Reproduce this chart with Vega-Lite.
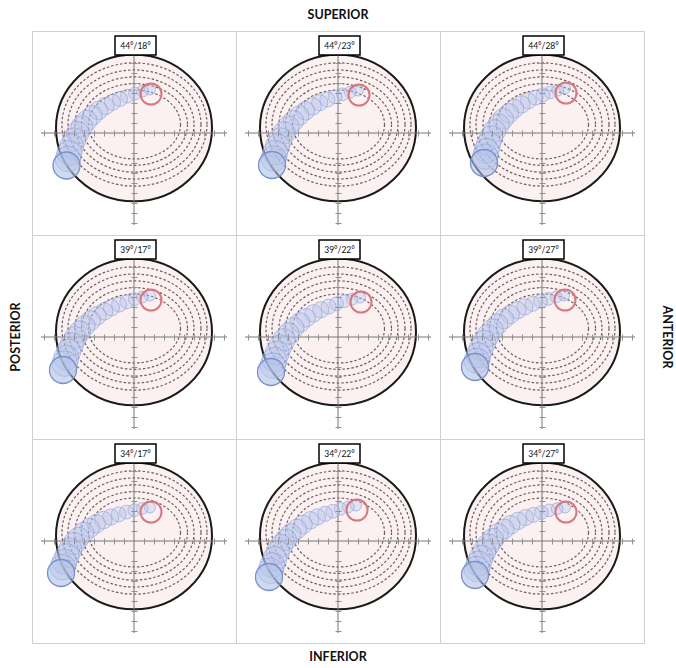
{
  "$schema": "https://vega.github.io/schema/vega-lite/v6.json",
  "padding": {"left": 9, "top": 8, "right": 5, "bottom": 5},
  "background": "white",
  "bounds": "flush",
  "data": {"values": [
    {"p":1,"k":"big","x":0,"y":0.5,"d":15.6},{"p":2,"k":"big","x":0,"y":0.5,"d":15.6},{"p":3,"k":"big","x":0,"y":0.5,"d":15.6},
    {"p":4,"k":"big","x":0,"y":0.5,"d":15.6},{"p":5,"k":"big","x":0,"y":0.5,"d":15.6},{"p":6,"k":"big","x":0,"y":0.5,"d":15.6},
    {"p":7,"k":"big","x":0,"y":0.5,"d":15.6},{"p":8,"k":"big","x":0,"y":0.5,"d":15.6},{"p":9,"k":"big","x":0,"y":0.5,"d":15.6},
    {"p":1,"k":"ring","ri":1,"x":0.05,"y":0.85,"d":9.2},{"p":1,"k":"ring","ri":2,"x":0.05,"y":0.85,"d":10.6},{"p":1,"k":"ring","ri":3,"x":0.05,"y":0.85,"d":11.9},{"p":1,"k":"ring","ri":4,"x":0.05,"y":0.85,"d":13.3},{"p":1,"k":"ring","ri":5,"x":0.05,"y":0.85,"d":14.5},
    {"p":2,"k":"ring","ri":1,"x":0.05,"y":0.85,"d":9.2},{"p":2,"k":"ring","ri":2,"x":0.05,"y":0.85,"d":10.6},{"p":2,"k":"ring","ri":3,"x":0.05,"y":0.85,"d":11.9},{"p":2,"k":"ring","ri":4,"x":0.05,"y":0.85,"d":13.3},{"p":2,"k":"ring","ri":5,"x":0.05,"y":0.85,"d":14.5},
    {"p":3,"k":"ring","ri":1,"x":0.05,"y":0.85,"d":9.2},{"p":3,"k":"ring","ri":2,"x":0.05,"y":0.85,"d":10.6},{"p":3,"k":"ring","ri":3,"x":0.05,"y":0.85,"d":11.9},{"p":3,"k":"ring","ri":4,"x":0.05,"y":0.85,"d":13.3},{"p":3,"k":"ring","ri":5,"x":0.05,"y":0.85,"d":14.5},
    {"p":4,"k":"ring","ri":1,"x":0.05,"y":0.85,"d":9.2},{"p":4,"k":"ring","ri":2,"x":0.05,"y":0.85,"d":10.6},{"p":4,"k":"ring","ri":3,"x":0.05,"y":0.85,"d":11.9},{"p":4,"k":"ring","ri":4,"x":0.05,"y":0.85,"d":13.3},{"p":4,"k":"ring","ri":5,"x":0.05,"y":0.85,"d":14.5},
    {"p":5,"k":"ring","ri":1,"x":0.05,"y":0.85,"d":9.2},{"p":5,"k":"ring","ri":2,"x":0.05,"y":0.85,"d":10.6},{"p":5,"k":"ring","ri":3,"x":0.05,"y":0.85,"d":11.9},{"p":5,"k":"ring","ri":4,"x":0.05,"y":0.85,"d":13.3},{"p":5,"k":"ring","ri":5,"x":0.05,"y":0.85,"d":14.5},
    {"p":6,"k":"ring","ri":1,"x":0.05,"y":0.85,"d":9.2},{"p":6,"k":"ring","ri":2,"x":0.05,"y":0.85,"d":10.6},{"p":6,"k":"ring","ri":3,"x":0.05,"y":0.85,"d":11.9},{"p":6,"k":"ring","ri":4,"x":0.05,"y":0.85,"d":13.3},{"p":6,"k":"ring","ri":5,"x":0.05,"y":0.85,"d":14.5},
    {"p":7,"k":"ring","ri":1,"x":0.05,"y":0.85,"d":9.2},{"p":7,"k":"ring","ri":2,"x":0.05,"y":0.85,"d":10.6},{"p":7,"k":"ring","ri":3,"x":0.05,"y":0.85,"d":11.9},{"p":7,"k":"ring","ri":4,"x":0.05,"y":0.85,"d":13.3},{"p":7,"k":"ring","ri":5,"x":0.05,"y":0.85,"d":14.5},
    {"p":8,"k":"ring","ri":1,"x":0.05,"y":0.85,"d":9.2},{"p":8,"k":"ring","ri":2,"x":0.05,"y":0.85,"d":10.6},{"p":8,"k":"ring","ri":3,"x":0.05,"y":0.85,"d":11.9},{"p":8,"k":"ring","ri":4,"x":0.05,"y":0.85,"d":13.3},{"p":8,"k":"ring","ri":5,"x":0.05,"y":0.85,"d":14.5},
    {"p":9,"k":"ring","ri":1,"x":0.05,"y":0.85,"d":9.2},{"p":9,"k":"ring","ri":2,"x":0.05,"y":0.85,"d":10.6},{"p":9,"k":"ring","ri":3,"x":0.05,"y":0.85,"d":11.9},{"p":9,"k":"ring","ri":4,"x":0.05,"y":0.85,"d":13.3},{"p":9,"k":"ring","ri":5,"x":0.05,"y":0.85,"d":14.5},

    {"p":1,"k":"t","x":1.6,"y":4.35,"d":1.1},{"p":1,"k":"t","x":0.85,"y":4.18,"d":1.18},{"p":1,"k":"t","x":0.1,"y":3.95,"d":1.27},{"p":1,"k":"t","x":-0.65,"y":3.69,"d":1.38},
    {"p":1,"k":"t","x":-1.4,"y":3.4,"d":1.5},{"p":1,"k":"t","x":-2.15,"y":3.07,"d":1.62},{"p":1,"k":"t","x":-2.85,"y":2.7,"d":1.74},{"p":1,"k":"t","x":-3.55,"y":2.25,"d":1.86},
    {"p":1,"k":"t","x":-4.15,"y":1.78,"d":1.97},{"p":1,"k":"t","x":-4.72,"y":1.24,"d":2.07},{"p":1,"k":"t","x":-5.2,"y":0.65,"d":2.16},{"p":1,"k":"t","x":-5.62,"y":0.02,"d":2.25},
    {"p":1,"k":"t","x":-5.97,"y":-0.65,"d":2.34},{"p":1,"k":"t","x":-6.24,"y":-1.33,"d":2.42},{"p":1,"k":"t","x":-6.46,"y":-2.0,"d":2.5},{"p":1,"k":"t","x":-6.6,"y":-2.6,"d":2.56},
    {"p":1,"k":"end","x":-6.75,"y":-3.25,"d":2.7},{"p":1,"k":"red","x":1.7,"y":3.9,"d":2.1},

    {"p":2,"k":"t","x":2.0,"y":4.25,"d":1.1},{"p":2,"k":"t","x":1.23,"y":4.09,"d":1.18},{"p":2,"k":"t","x":0.47,"y":3.87,"d":1.27},{"p":2,"k":"t","x":-0.3,"y":3.62,"d":1.38},
    {"p":2,"k":"t","x":-1.06,"y":3.34,"d":1.5},{"p":2,"k":"t","x":-1.83,"y":3.02,"d":1.62},{"p":2,"k":"t","x":-2.54,"y":2.66,"d":1.74},{"p":2,"k":"t","x":-3.26,"y":2.22,"d":1.86},
    {"p":2,"k":"t","x":-3.87,"y":1.75,"d":1.97},{"p":2,"k":"t","x":-4.46,"y":1.22,"d":2.07},{"p":2,"k":"t","x":-4.96,"y":0.64,"d":2.16},{"p":2,"k":"t","x":-5.39,"y":0.02,"d":2.25},
    {"p":2,"k":"t","x":-5.76,"y":-0.64,"d":2.34},{"p":2,"k":"t","x":-6.04,"y":-1.31,"d":2.42},{"p":2,"k":"t","x":-6.28,"y":-1.97,"d":2.5},{"p":2,"k":"t","x":-6.43,"y":-2.56,"d":2.56},
    {"p":2,"k":"end","x":-6.6,"y":-3.2,"d":2.7},{"p":2,"k":"red","x":2.1,"y":3.8,"d":2.1},

    {"p":3,"k":"t","x":2.3,"y":4.45,"d":1.1},{"p":3,"k":"t","x":1.57,"y":4.29,"d":1.18},{"p":3,"k":"t","x":0.83,"y":4.07,"d":1.27},{"p":3,"k":"t","x":0.1,"y":3.82,"d":1.38},
    {"p":3,"k":"t","x":-0.64,"y":3.54,"d":1.5},{"p":3,"k":"t","x":-1.37,"y":3.22,"d":1.62},{"p":3,"k":"t","x":-2.06,"y":2.86,"d":1.74},{"p":3,"k":"t","x":-2.74,"y":2.42,"d":1.86},
    {"p":3,"k":"t","x":-3.32,"y":1.96,"d":1.97},{"p":3,"k":"t","x":-3.88,"y":1.42,"d":2.07},{"p":3,"k":"t","x":-4.34,"y":0.84,"d":2.16},{"p":3,"k":"t","x":-4.75,"y":0.22,"d":2.25},
    {"p":3,"k":"t","x":-5.08,"y":-0.44,"d":2.34},{"p":3,"k":"t","x":-5.34,"y":-1.11,"d":2.42},{"p":3,"k":"t","x":-5.54,"y":-1.77,"d":2.5},{"p":3,"k":"t","x":-5.67,"y":-2.36,"d":2.56},
    {"p":3,"k":"end","x":-5.8,"y":-3.0,"d":2.7},{"p":3,"k":"red","x":2.4,"y":4.0,"d":2.1},

    {"p":4,"k":"t","x":1.6,"y":4.15,"d":1.1},{"p":4,"k":"t","x":0.83,"y":3.99,"d":1.18},{"p":4,"k":"t","x":0.06,"y":3.77,"d":1.27},{"p":4,"k":"t","x":-0.72,"y":3.52,"d":1.38},
    {"p":4,"k":"t","x":-1.49,"y":3.24,"d":1.5},{"p":4,"k":"t","x":-2.26,"y":2.92,"d":1.62},{"p":4,"k":"t","x":-2.98,"y":2.56,"d":1.74},{"p":4,"k":"t","x":-3.7,"y":2.12,"d":1.86},
    {"p":4,"k":"t","x":-4.33,"y":1.65,"d":1.97},{"p":4,"k":"t","x":-4.92,"y":1.12,"d":2.07},{"p":4,"k":"t","x":-5.42,"y":0.54,"d":2.16},{"p":4,"k":"t","x":-5.86,"y":-0.08,"d":2.25},
    {"p":4,"k":"t","x":-6.23,"y":-0.74,"d":2.34},{"p":4,"k":"t","x":-6.52,"y":-1.41,"d":2.42},{"p":4,"k":"t","x":-6.77,"y":-2.07,"d":2.5},{"p":4,"k":"t","x":-6.93,"y":-2.66,"d":2.56},
    {"p":4,"k":"end","x":-7.1,"y":-3.3,"d":2.7},{"p":4,"k":"red","x":1.7,"y":3.7,"d":2.1},

    {"p":5,"k":"t","x":2.2,"y":3.95,"d":1.1},{"p":5,"k":"t","x":1.42,"y":3.79,"d":1.18},{"p":5,"k":"t","x":0.63,"y":3.57,"d":1.27},{"p":5,"k":"t","x":-0.15,"y":3.32,"d":1.38},
    {"p":5,"k":"t","x":-0.94,"y":3.04,"d":1.5},{"p":5,"k":"t","x":-1.72,"y":2.72,"d":1.62},{"p":5,"k":"t","x":-2.46,"y":2.36,"d":1.74},{"p":5,"k":"t","x":-3.19,"y":1.92,"d":1.86},
    {"p":5,"k":"t","x":-3.82,"y":1.45,"d":1.97},{"p":5,"k":"t","x":-4.43,"y":0.92,"d":2.07},{"p":5,"k":"t","x":-4.94,"y":0.34,"d":2.16},{"p":5,"k":"t","x":-5.4,"y":-0.28,"d":2.25},
    {"p":5,"k":"t","x":-5.78,"y":-0.94,"d":2.34},{"p":5,"k":"t","x":-6.09,"y":-1.61,"d":2.42},{"p":5,"k":"t","x":-6.34,"y":-2.27,"d":2.5},{"p":5,"k":"t","x":-6.52,"y":-2.86,"d":2.56},
    {"p":5,"k":"end","x":-6.7,"y":-3.5,"d":2.7},{"p":5,"k":"red","x":2.3,"y":3.5,"d":2.1},

    {"p":6,"k":"t","x":2.2,"y":4.15,"d":1.1},{"p":6,"k":"t","x":1.42,"y":4.01,"d":1.18},{"p":6,"k":"t","x":0.63,"y":3.81,"d":1.27},{"p":6,"k":"t","x":-0.15,"y":3.57,"d":1.38},
    {"p":6,"k":"t","x":-0.94,"y":3.31,"d":1.5},{"p":6,"k":"t","x":-1.72,"y":3.01,"d":1.62},{"p":6,"k":"t","x":-2.46,"y":2.67,"d":1.74},{"p":6,"k":"t","x":-3.19,"y":2.25,"d":1.86},
    {"p":6,"k":"t","x":-3.82,"y":1.81,"d":1.97},{"p":6,"k":"t","x":-4.43,"y":1.29,"d":2.07},{"p":6,"k":"t","x":-4.94,"y":0.73,"d":2.16},{"p":6,"k":"t","x":-5.4,"y":0.13,"d":2.25},
    {"p":6,"k":"t","x":-5.78,"y":-0.51,"d":2.34},{"p":6,"k":"t","x":-6.09,"y":-1.16,"d":2.42},{"p":6,"k":"t","x":-6.34,"y":-1.81,"d":2.5},{"p":6,"k":"t","x":-6.52,"y":-2.38,"d":2.56},
    {"p":6,"k":"end","x":-6.7,"y":-3.0,"d":2.7},{"p":6,"k":"red","x":2.3,"y":3.7,"d":2.1},

    {"p":7,"k":"t","x":1.6,"y":3.35,"d":1.1},{"p":7,"k":"t","x":0.82,"y":3.25,"d":1.18},{"p":7,"k":"t","x":0.03,"y":3.08,"d":1.27},{"p":7,"k":"t","x":-0.75,"y":2.89,"d":1.38},
    {"p":7,"k":"t","x":-1.54,"y":2.66,"d":1.5},{"p":7,"k":"t","x":-2.32,"y":2.4,"d":1.62},{"p":7,"k":"t","x":-3.06,"y":2.09,"d":1.74},{"p":7,"k":"t","x":-3.79,"y":1.71,"d":1.86},
    {"p":7,"k":"t","x":-4.43,"y":1.3,"d":1.97},{"p":7,"k":"t","x":-5.03,"y":0.83,"d":2.07},{"p":7,"k":"t","x":-5.54,"y":0.31,"d":2.16},{"p":7,"k":"t","x":-6.0,"y":-0.26,"d":2.25},
    {"p":7,"k":"t","x":-6.38,"y":-0.86,"d":2.34},{"p":7,"k":"t","x":-6.69,"y":-1.48,"d":2.42},{"p":7,"k":"t","x":-6.94,"y":-2.08,"d":2.5},{"p":7,"k":"t","x":-7.12,"y":-2.62,"d":2.56},
    {"p":7,"k":"end","x":-7.3,"y":-3.2,"d":2.7},{"p":7,"k":"red","x":1.7,"y":2.9,"d":2.1},

    {"p":8,"k":"t","x":1.8,"y":3.55,"d":1.1},{"p":8,"k":"t","x":1.03,"y":3.41,"d":1.18},{"p":8,"k":"t","x":0.26,"y":3.21,"d":1.27},{"p":8,"k":"t","x":-0.52,"y":2.97,"d":1.38},
    {"p":8,"k":"t","x":-1.29,"y":2.71,"d":1.5},{"p":8,"k":"t","x":-2.06,"y":2.41,"d":1.62},{"p":8,"k":"t","x":-2.78,"y":2.07,"d":1.74},{"p":8,"k":"t","x":-3.5,"y":1.65,"d":1.86},
    {"p":8,"k":"t","x":-4.12,"y":1.2,"d":1.97},{"p":8,"k":"t","x":-4.72,"y":0.69,"d":2.07},{"p":8,"k":"t","x":-5.22,"y":0.13,"d":2.16},{"p":8,"k":"t","x":-5.66,"y":-0.47,"d":2.25},
    {"p":8,"k":"t","x":-6.03,"y":-1.11,"d":2.34},{"p":8,"k":"t","x":-6.32,"y":-1.76,"d":2.42},{"p":8,"k":"t","x":-6.57,"y":-2.41,"d":2.5},{"p":8,"k":"t","x":-6.73,"y":-2.98,"d":2.56},
    {"p":8,"k":"end","x":-6.9,"y":-3.6,"d":2.7},{"p":8,"k":"red","x":1.9,"y":3.1,"d":2.1},

    {"p":9,"k":"t","x":2.3,"y":3.35,"d":1.1},{"p":9,"k":"t","x":1.51,"y":3.23,"d":1.18},{"p":9,"k":"t","x":0.72,"y":3.06,"d":1.27},{"p":9,"k":"t","x":-0.07,"y":2.85,"d":1.38},
    {"p":9,"k":"t","x":-0.86,"y":2.61,"d":1.5},{"p":9,"k":"t","x":-1.65,"y":2.34,"d":1.62},{"p":9,"k":"t","x":-2.39,"y":2.02,"d":1.74},{"p":9,"k":"t","x":-3.13,"y":1.62,"d":1.86},
    {"p":9,"k":"t","x":-3.77,"y":1.2,"d":1.97},{"p":9,"k":"t","x":-4.39,"y":0.72,"d":2.07},{"p":9,"k":"t","x":-4.91,"y":0.18,"d":2.16},{"p":9,"k":"t","x":-5.37,"y":-0.4,"d":2.25},
    {"p":9,"k":"t","x":-5.76,"y":-1.01,"d":2.34},{"p":9,"k":"t","x":-6.07,"y":-1.64,"d":2.42},{"p":9,"k":"t","x":-6.33,"y":-2.26,"d":2.5},{"p":9,"k":"t","x":-6.51,"y":-2.8,"d":2.56},
    {"p":9,"k":"end","x":-6.7,"y":-3.4,"d":2.7},{"p":9,"k":"red","x":2.4,"y":2.9,"d":2.1}
  ]},
  "transform": [
    {"lookup": "p", "from": {"data": {"values": [
      {"p": 1, "row": 1, "col": 1, "label": "44°/18°"},
      {"p": 2, "row": 1, "col": 2, "label": "44°/23°"},
      {"p": 3, "row": 1, "col": 3, "label": "44°/28°"},
      {"p": 4, "row": 2, "col": 1, "label": "39°/17°"},
      {"p": 5, "row": 2, "col": 2, "label": "39°/22°"},
      {"p": 6, "row": 2, "col": 3, "label": "39°/27°"},
      {"p": 7, "row": 3, "col": 1, "label": "34°/17°"},
      {"p": 8, "row": 3, "col": 2, "label": "34°/22°"},
      {"p": 9, "row": 3, "col": 3, "label": "34°/27°"}
    ]}, "key": "p", "fields": ["row", "col", "label"]}}
  ],
  "facet": {
    "row": {"field": "row", "type": "ordinal", "header": {
      "title": "POSTERIOR", "titleOrient": "left", "titleFont": "Lato", "titleFontSize": 12.5, "titleFontWeight": "bold", "titleColor": "#111", "titlePadding": 0,
      "labelOrient": "right", "labelAngle": 90, "labelExpr": "datum.value == 2 ? 'ANTERIOR' : ''", "labelFont": "Lato", "labelFontSize": 12.5, "labelFontWeight": "bold", "labelColor": "#111", "labelPadding": 16
    }},
    "column": {"field": "col", "type": "ordinal", "header": {
      "title": "SUPERIOR", "titleOrient": "top", "titleFont": "Lato", "titleFontSize": 12.5, "titleFontWeight": "bold", "titleColor": "#111", "titlePadding": 0,
      "labelOrient": "bottom", "labelExpr": "datum.value == 2 ? 'INFERIOR' : ''", "labelFont": "Lato", "labelFontSize": 12.5, "labelFontWeight": "bold", "labelColor": "#111", "labelPadding": 8
    }}
  },
  "spacing": 0,
  "resolve": {"axis": {"x": "independent", "y": "independent"}},
  "spec": {
    "width": 204,
    "height": 204,
    "encoding": {
      "x": {"field": "x", "type": "quantitative", "scale": {"domain": [-10.2, 10.2]},
        "axis": {"orient": "bottom", "offset": -105, "values": [-9,-8,-7,-6,-5,-4,-3,-2,-1,1,2,3,4,5,6,7,8,9], "domain": false, "labels": false, "title": null, "grid": false, "tickSize": 6, "tickColor": "#919191", "tickWidth": 1, "zindex": 1}},
      "y": {"field": "y", "type": "quantitative", "scale": {"domain": [-10.2, 10.2]},
        "axis": {"orient": "left", "offset": -105, "values": [-9,-8,-7,-6,-5,-4,-3,-2,-1,1,2,3,4,5,6,7], "domain": false, "labels": false, "title": null, "grid": false, "tickSize": 6, "tickColor": "#919191", "tickWidth": 1, "zindex": 1}}
    },
    "layer": [
      {"transform": [{"filter": "datum.k == 'big'"}],
       "mark": {"type": "point", "filled": true, "fill": "#fcf1f1", "fillOpacity": 1, "stroke": "#1a1a1a", "strokeWidth": 2, "opacity": 1,
         "shape": "M 1 0 C 1 0.519 0.552 0.94 0 0.94 C -0.552 0.94 -1 0.519 -1 0 C -1 -0.519 -0.552 -0.94 0 -0.94 C 0.552 -0.94 1 -0.519 1 0 Z"},
       "encoding": {"size": {"field": "d", "type": "quantitative", "scale": {"type": "pow", "exponent": 2, "domain": [0, 20], "range": [0, 40000]}, "legend": null}}},
      {"transform": [{"filter": "datum.k == 'ring'"}],
       "mark": {"type": "point", "filled": false, "stroke": "#6e5c5e", "strokeWidth": 1.2, "strokeDash": [2.5, 2], "opacity": 1},
       "encoding": {
         "size": {"field": "d", "type": "quantitative", "legend": null},
         "shape": {"field": "ri", "type": "nominal", "legend": null, "scale": {"domain": [1, 2, 3, 4, 5], "range": [
           "M 1 0 C 1 0.414 0.552 0.75 0 0.75 C -0.552 0.75 -1 0.414 -1 0 C -1 -0.414 -0.552 -0.75 0 -0.75 C 0.552 -0.75 1 -0.414 1 0 Z",
           "M 1 0 C 1 0.425 0.552 0.77 0 0.77 C -0.552 0.77 -1 0.425 -1 0 C -1 -0.425 -0.552 -0.77 0 -0.77 C 0.552 -0.77 1 -0.425 1 0 Z",
           "M 1 0 C 1 0.442 0.552 0.8 0 0.8 C -0.552 0.8 -1 0.442 -1 0 C -1 -0.442 -0.552 -0.8 0 -0.8 C 0.552 -0.8 1 -0.442 1 0 Z",
           "M 1 0 C 1 0.453 0.552 0.82 0 0.82 C -0.552 0.82 -1 0.453 -1 0 C -1 -0.453 -0.552 -0.82 0 -0.82 C 0.552 -0.82 1 -0.453 1 0 Z",
           "M 1 0 C 1 0.469 0.552 0.85 0 0.85 C -0.552 0.85 -1 0.469 -1 0 C -1 -0.469 -0.552 -0.85 0 -0.85 C 0.552 -0.85 1 -0.469 1 0 Z"
         ]}}}},
      {"transform": [{"filter": "datum.k == 'big'"}],
       "mark": {"type": "rule", "color": "#777777", "strokeWidth": 1},
       "encoding": {"x": {"datum": -9.3}, "x2": {"datum": 9.3}, "y": {"datum": 0}}},
      {"transform": [{"filter": "datum.k == 'big'"}],
       "mark": {"type": "rule", "color": "#777777", "strokeWidth": 1},
       "encoding": {"x": {"datum": 0}, "y": {"datum": -9.2}, "y2": {"datum": 8}}},
      {"transform": [{"filter": "datum.k == 't'"}],
       "mark": {"type": "point", "filled": true, "shape": "circle", "fill": "#b4c2ea", "fillOpacity": 0.35, "stroke": "#8a9fd6", "strokeWidth": 0.9, "strokeOpacity": 0.7, "opacity": 1},
       "encoding": {"size": {"field": "d", "type": "quantitative", "legend": null}}},
      {"transform": [{"filter": "datum.k == 'end'"}],
       "mark": {"type": "point", "filled": true, "shape": "circle", "fill": "#afbfe6", "fillOpacity": 0.6, "stroke": "#7890cb", "strokeWidth": 1.3, "opacity": 1},
       "encoding": {"size": {"field": "d", "type": "quantitative", "legend": null}}},
      {"transform": [{"filter": "datum.k == 'red'"}],
       "mark": {"type": "point", "filled": false, "shape": "circle", "stroke": "#d6787e", "strokeWidth": 2, "opacity": 1},
       "encoding": {"size": {"field": "d", "type": "quantitative", "legend": null}}},
      {"transform": [{"filter": "datum.k == 'big'"}],
       "mark": {"type": "rect", "fill": "white", "stroke": "black", "strokeWidth": 1.5},
       "encoding": {"x": {"datum": -1.9}, "x2": {"datum": 2.2}, "y": {"datum": 7.8}, "y2": {"datum": 9.7}}},
      {"transform": [{"filter": "datum.k == 'big'"}],
       "mark": {"type": "text", "font": "Lato", "fontSize": 8.5, "color": "#111", "align": "center", "baseline": "middle"},
       "encoding": {"x": {"datum": 0.15}, "y": {"datum": 8.75}, "text": {"field": "label"}}}
    ]
  },
  "config": {"view": {"stroke": "#cfcfcf", "strokeWidth": 1}}
}
